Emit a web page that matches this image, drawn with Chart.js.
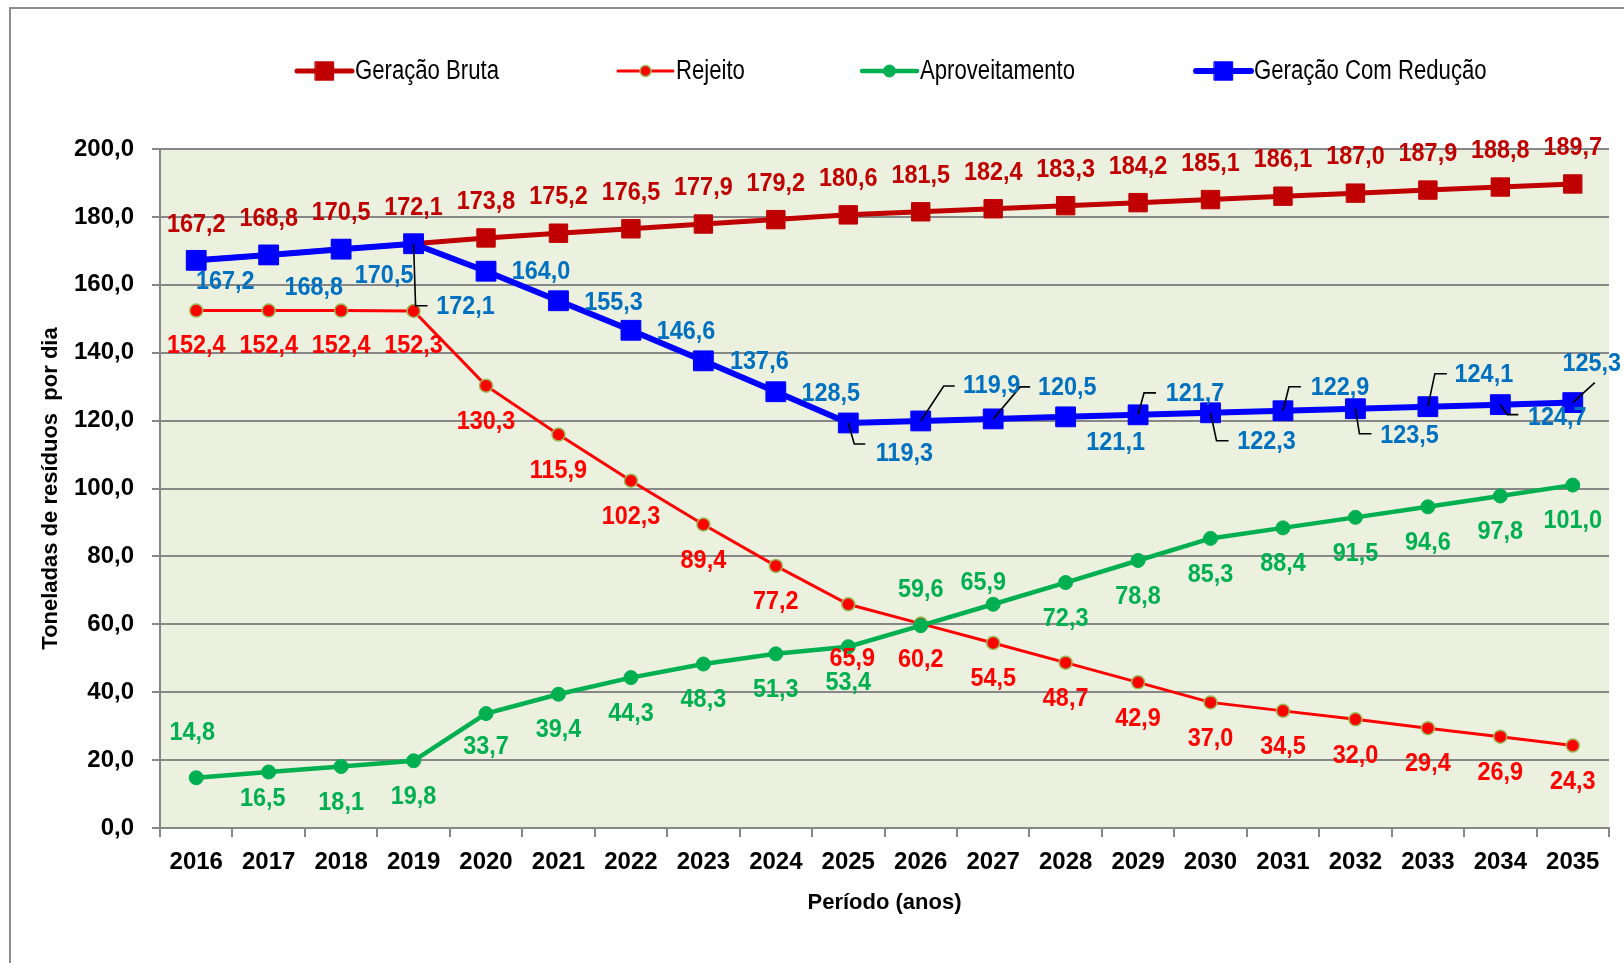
<!DOCTYPE html>
<html><head><meta charset="utf-8">
<script src="https://cdn.jsdelivr.net/npm/chart.js@4.4.1/dist/chart.umd.min.js"></script>
<style>html,body{margin:0;padding:0;background:#fff;}canvas{display:block;}</style>
</head><body>
<canvas id="c" width="1624" height="963"></canvas>
<script>
// ---------------- DATA ----------------
const years = ['2016','2017','2018','2019','2020','2021','2022','2023','2024','2025',
               '2026','2027','2028','2029','2030','2031','2032','2033','2034','2035'];
const geracaoBruta = [167.2,168.8,170.5,172.1,173.8,175.2,176.5,177.9,179.2,180.6,
                      181.5,182.4,183.3,184.2,185.1,186.1,187.0,187.9,188.8,189.7];
const rejeito = [152.4,152.4,152.4,152.3,130.3,115.9,102.3,89.4,77.2,65.9,
                 60.2,54.5,48.7,42.9,37.0,34.5,32.0,29.4,26.9,24.3];
const aproveitamento = [14.8,16.5,18.1,19.8,33.7,39.4,44.3,48.3,51.3,53.4,
                        59.6,65.9,72.3,78.8,85.3,88.4,91.5,94.6,97.8,101.0];
const geracaoComReducao = [167.2,168.8,170.5,172.1,164.0,155.3,146.6,137.6,128.5,119.3,
                           119.9,120.5,121.1,121.7,122.3,122.9,123.5,124.1,124.7,125.3];
const yTickValues = [0,20,40,60,80,100,120,140,160,180,200];
const seriesNames = ['Geração Bruta','Rejeito','Aproveitamento','Geração Com Redução'];

// ---------------- STYLE / LABEL PLACEMENT ----------------
const FONT = '"Liberation Sans","Arial",sans-serif';
const fmt = v => v.toFixed(1).replace('.', ',');

// label centre offsets relative to point; leader = [elbowDx, elbowDy, horizLen]
const brutaPlace = years.map(() => ({dx:0, dy:-37}));
const rejeitoPlace = years.map((y,i) => i === 9 ? {dx:4, dy:54} : (i < 4 ? {dx:0, dy:34} : {dx:0, dy:35}));
const aprovPlace = years.map((y,i) => {
  if (i === 0) return {dx:-4, dy:-46};
  if (i === 1) return {dx:-6, dy:26};
  if (i === 4) return {dx:0, dy:32};
  if (i === 10) return {dx:0, dy:-37};
  if (i === 11) return {dx:-10, dy:-22};
  return {dx:0, dy:35};
});
const reducaoPlace = [
  {dx:29, dy:20}, {dx:45, dy:32}, {dx:43, dy:26},
  {dx:52, dy:62, leader:[2,62,12]},
  {dx:55, dy:0}, {dx:55, dy:1}, {dx:55, dy:1}, {dx:56, dy:0}, {dx:55, dy:1},
  {dx:56, dy:30, leader:[6,21,11]},
  {dx:71, dy:-36, leader:[23,-35,11]},
  {dx:74, dy:-32, leader:[27,-32,10]},
  {dx:50, dy:25},
  {dx:57, dy:-22, leader:[6,-22,12]},
  {dx:56, dy:28, leader:[6,28,12]},
  {dx:57, dy:-24, leader:[6,-24,12]},
  {dx:54, dy:26, leader:[4,25,12]},
  {dx:56, dy:-33, leader:[7,-33,12]},
  {dx:57, dy:12, leader:[7,10,11]},
  {dx:19, dy:-40, leader:[22,-20,0]}
];

function narrowText(ctx, text, x, y, align, squeeze){
  ctx.save();
  ctx.translate(x, y);
  ctx.scale(squeeze, 1);
  ctx.textAlign = align;
  ctx.textBaseline = 'middle';
  ctx.fillText(text, 0, 0);
  ctx.restore();
}

const frameAndBg = {
  id:'frameAndBg',
  beforeDraw(chart){
    const {ctx, chartArea:a} = chart;
    ctx.save();
    ctx.fillStyle = '#fff';
    ctx.fillRect(0,0,chart.width,chart.height);
    ctx.strokeStyle = '#8c8c8c'; ctx.lineWidth = 2;
    ctx.beginPath(); ctx.moveTo(10, chart.height); ctx.lineTo(10, 8); ctx.lineTo(chart.width, 8); ctx.stroke();
    ctx.fillStyle = '#EBF1DE';
    ctx.fillRect(a.left, a.top, a.right - a.left, a.bottom - a.top);
    ctx.restore();
  }
};

const valueLabels = {
  id:'valueLabels',
  afterDatasetsDraw(chart){
    const ctx = chart.ctx;
    chart.data.datasets.forEach((ds, di) => {
      const meta = chart.getDatasetMeta(di);
      ctx.save();
      meta.data.forEach((pt, i) => {
        const p = ds.labelPlace[i];
        if (p.leader) {
          ctx.strokeStyle = '#000'; ctx.lineWidth = 1.6;
          ctx.beginPath();
          ctx.moveTo(pt.x, pt.y);
          ctx.lineTo(pt.x + p.leader[0], pt.y + p.leader[1]);
          ctx.lineTo(pt.x + p.leader[0] + p.leader[2], pt.y + p.leader[1]);
          ctx.stroke();
        }
      });
      ctx.font = 'bold 26px ' + FONT;
      ctx.fillStyle = ds.labelColor;
      meta.data.forEach((pt, i) => {
        const p = ds.labelPlace[i];
        narrowText(ctx, fmt(ds.data[i]), pt.x + p.dx, pt.y + p.dy + 1, 'center', 0.9);
      });
      ctx.restore();
    });
  }
};

const lineLegend = {
  id:'lineLegend',
  afterDraw(chart, args, opts){
    const ctx = chart.ctx;
    chart.data.datasets.forEach((ds, i) => {
      const x0 = opts.starts[i], y = opts.y, len = opts.lineLength;
      ctx.save();
      ctx.strokeStyle = ds.borderColor; ctx.lineWidth = ds.legendLineWidth; ctx.lineCap = 'round';
      ctx.beginPath(); ctx.moveTo(x0, y); ctx.lineTo(x0 + len, y); ctx.stroke();
      ctx.fillStyle = ds.pointBackgroundColor; ctx.strokeStyle = ds.pointBorderColor;
      ctx.lineWidth = ds.pointBorderWidth;
      Chart.helpers.drawPoint(ctx, {pointStyle: ds.pointStyle, radius: ds.legendRadius, rotation:0, borderWidth: ds.pointBorderWidth}, x0 + len/2, y);
      ctx.fillStyle = '#000'; ctx.font = '27px ' + FONT;
      narrowText(ctx, ds.label, x0 + len + 3, y + 1, 'left', 0.82);
      ctx.restore();
    });
  }
};

new Chart(document.getElementById('c'), {
  type:'line',
  data:{
    labels: years,
    datasets:[
      {label:seriesNames[0], data:geracaoBruta, order:3, borderColor:'#C00000', borderWidth:5,
       pointStyle:'rect', pointRadius:13, pointBackgroundColor:'#C00000', pointBorderColor:'#C00000', pointBorderWidth:1,
       labelColor:'#C00000', labelPlace:brutaPlace, legendLineWidth:5, legendRadius:13},
      {label:seriesNames[1], data:rejeito, order:2, borderColor:'#FF0000', borderWidth:3,
       pointStyle:'circle', pointRadius:6.5, pointBackgroundColor:'#FF0000', pointBorderColor:'#9BBB59', pointBorderWidth:1.5,
       labelColor:'#FF0000', labelPlace:rejeitoPlace, legendLineWidth:3, legendRadius:5.5},
      {label:seriesNames[2], data:aproveitamento, order:1, borderColor:'#00B050', borderWidth:4.5,
       pointStyle:'circle', pointRadius:7, pointBackgroundColor:'#00B050', pointBorderColor:'#00B050', pointBorderWidth:1,
       labelColor:'#00B050', labelPlace:aprovPlace, legendLineWidth:4.5, legendRadius:6},
      {label:seriesNames[3], data:geracaoComReducao, order:0, borderColor:'#0000FF', borderWidth:6,
       pointStyle:'rect', pointRadius:14, pointBackgroundColor:'#0000FF', pointBorderColor:'#0000FF', pointBorderWidth:1,
       labelColor:'#0070C0', labelPlace:reducaoPlace, legendLineWidth:6, legendRadius:13}
    ]
  },
  options:{
    responsive:false, animation:false, devicePixelRatio:1,
    layout:{padding:{top:149, right:11, bottom:0, left:0}},
    elements:{line:{tension:0}},
    plugins:{
      legend:{display:false}, tooltip:{enabled:false},
      lineLegend:{starts:[297,618,862,1196], y:71, lineLength:55}
    },
    scales:{
      x:{
        type:'category', offset:true,
        grid:{offset:true, drawOnChartArea:false, drawTicks:true, tickLength:9, color:'#878787', lineWidth:2},
        border:{display:true, color:'#878787', width:2},
        ticks:{font:{family:FONT, size:24, weight:'bold'}, color:'#000', padding:11, maxRotation:0, autoSkip:false},
        title:{display:true, text:'Período (anos)', color:'#000', font:{family:FONT, size:22, weight:'bold'}, padding:{top:0, bottom:47}},
        afterFit(s){ s.height = 135; }
      },
      y:{
        min:0, max:200,
        afterBuildTicks(s){ s.ticks = yTickValues.map(v => ({value:v})); },
        ticks:{callback:v => fmt(v), font:{family:FONT, size:24, weight:'bold'}, color:'#000', padding:18},
        grid:{color:'#878787', lineWidth:2, tickLength:8, drawTicks:true},
        border:{display:true, color:'#878787', width:2},
        title:{display:true, text:'Toneladas de resíduos  por dia', color:'#000', font:{family:FONT, size:22, weight:'bold'}, padding:{top:38, bottom:0}},
        afterFit(s){ s.width = 160; }
      }
    }
  },
  plugins:[frameAndBg, valueLabels, lineLegend]
});
</script>
</body></html>
